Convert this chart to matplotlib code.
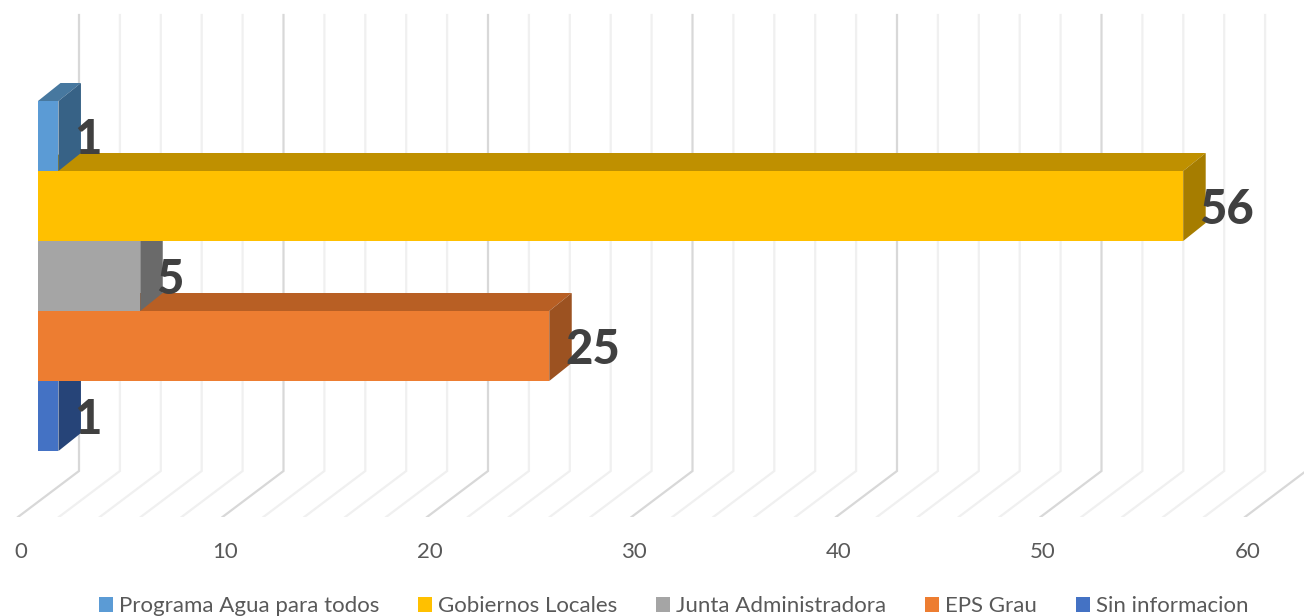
import numpy as np
import matplotlib
matplotlib.use("Agg")
import matplotlib.pyplot as plt
from matplotlib.patches import Patch, Polygon

# Data, top bar first
categories = ["Programa Agua para todos", "Gobiernos Locales", "Junta Administradora", "EPS Grau", "Sin informacion"]
values = [1, 56, 5, 25, 1]
axis_ticks = [0, 10, 20, 30, 40, 50, 60]

# Colours for the front, top and side of each bar
front_colors = ["#5B9BD5", "#FFC000", "#A5A5A5", "#ED7D31", "#4472C4"]
top_colors = ["#47789F", "#BF9000", "#7F7F7F", "#B85F24", "#335593"]
side_colors = ["#376286", "#A67D00", "#6A6A6A", "#9C5221", "#264478"]

plt.rcParams["font.family"] = ["Lato", "DejaVu Sans"]

W, H = 1304, 616
PX_X = 20.45  # pixels for one unit on the value axis
PX_Y = 70.0   # pixels for one bar height

# 3D look: offsets of bar depth, back wall and front of floor
bar_dx, bar_dy = 22.5 / PX_X, 18 / PX_Y
wall_dx = 41 / PX_X
floor_dx = -20 / PX_X
wall_top = (15 - 101) / PX_Y
wall_bottom = (471 - 101) / PX_Y
floor_front = (517 - 101) / PX_Y

fig = plt.figure(figsize=(W / 100, H / 100), dpi=100)
ax = fig.add_axes([0, (H - 517) / H, 1, 517 / H])
ax.set_xlim(-38 / PX_X, (W - 38) / PX_X)
ax.set_ylim(floor_front, -101 / PX_Y)
for s in ax.spines.values():
    s.set_visible(False)

# Gridlines on the wall and the floor, every 2 units, darker on the labelled ones
for v in np.arange(0, 62, 2):
    c = "#d8d8d8" if v % 10 == 0 else "#f0f0f0"
    ax.plot([v + floor_dx, v + wall_dx, v + wall_dx],
            [floor_front, wall_bottom, wall_top],
            color=c, lw=1.6, zorder=1, solid_joinstyle="miter")

# Layer the faces: all tops, then all sides, then all fronts
for i, v in enumerate(values):
    y0, y1 = i, i + 1
    ax.add_patch(Polygon([(0, y0), (bar_dx, y0 - bar_dy), (v + bar_dx, y0 - bar_dy), (v, y0)],
                         fc=top_colors[i], ec="none", zorder=2))
    ax.add_patch(Polygon([(v, y0), (v + bar_dx, y0 - bar_dy), (v + bar_dx, y1 - bar_dy), (v, y1)],
                         fc=side_colors[i], ec="none", zorder=3))
    ax.add_patch(Polygon([(0, y0), (v, y0), (v, y1), (0, y1)],
                         fc=front_colors[i], ec="none", zorder=4))

for i, v in enumerate(values):
    ax.text(v + bar_dx - 0.33, i + 0.5, str(v), ha="left", va="center_baseline",
            fontsize=34, fontweight="black", color="#404040", zorder=20)

ax.set_yticks([])
ax.set_xticks(np.array(axis_ticks) + floor_dx + 2.5 / PX_X, labels=[str(t) for t in axis_ticks])
ax.tick_params(axis="x", length=0, pad=18, labelsize=16, labelcolor="#595959")

handles = [Patch(fc=c, ec="none") for c in front_colors]
fig.legend(handles, categories, ncol=5, loc="lower center", bbox_to_anchor=(0.5165, -0.022),
           frameon=False, fontsize=16, labelcolor="#595959", handlelength=0.63, handleheight=0.63,
           handletextpad=0.27, columnspacing=1.75, borderpad=0.1)

fig.savefig("out.png", dpi=100)
